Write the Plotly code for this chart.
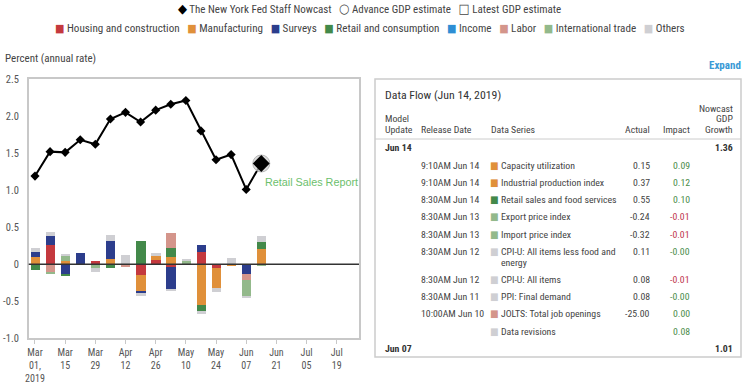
import plotly.graph_objects as go

# ---------------- data ----------------
weeks = ["2019-03-01", "2019-03-08", "2019-03-15", "2019-03-22", "2019-03-29",
         "2019-04-05", "2019-04-12", "2019-04-19", "2019-04-26", "2019-05-03",
         "2019-05-10", "2019-05-17", "2019-05-24", "2019-05-31", "2019-06-07",
         "2019-06-14"]
nowcast = [1.19, 1.52, 1.51, 1.68, 1.62, 1.96, 2.05, 1.92, 2.08, 2.16,
           2.21, 1.80, 1.41, 1.48, 1.01, 1.36]

housing       = [0, 0.26, 0, 0, 0.05, 0, 0, -0.15, 0.06, -0.04, 0, 0.16, -0.045, 0, 0, 0]
manufacturing = [0.095, 0, 0.045, 0, 0, 0.07, 0, -0.21, 0.055, 0.095, 0, -0.55, -0.28, -0.025, 0, 0.21]
surveys       = [0.07, 0.12, -0.125, 0.15, 0, 0.24, 0, -0.027, 0, -0.30, 0, 0.10, 0, 0, -0.135, 0]
retail        = [-0.08, 0, -0.027, 0, 0, -0.055, 0, 0.32, 0, 0.12, 0, -0.085, 0, 0, 0, 0.095]
income        = [0] * 16
labor         = [0, -0.11, 0, 0, 0, 0, -0.035, 0, 0, 0.21, 0, 0, 0, 0, -0.08, 0]
intl_trade    = [0, -0.02, 0.07, 0, -0.05, 0, 0, 0, 0, 0, 0.045, 0, 0, 0, -0.22, -0.02]
others        = [0.055, 0.05, 0.03, 0, -0.05, 0.08, 0.12, -0.045, 0.035, -0.015, 0.03, -0.03, -0.055, 0.08, -0.02, 0.08]

categories = ["Housing and construction", "Manufacturing", "Surveys", "Retail and consumption",
              "Income", "Labor", "International trade", "Others"]
cat_values = [housing, manufacturing, surveys, retail, income, labor, intl_trade, others]
cat_colors = ["#c4393e", "#e0903a", "#2c3d8c", "#43894a", "#2e8ed4", "#d4958b", "#93b98b", "#cfcfd3"]

tick_dates = ["2019-03-01", "2019-03-15", "2019-03-29", "2019-04-12", "2019-04-26", "2019-05-10",
              "2019-05-24", "2019-06-07", "2019-06-21", "2019-07-05", "2019-07-19"]
tick_labels = ["Mar<br>01,<br>2019", "Mar<br>15", "Mar<br>29", "Apr<br>12", "Apr<br>26", "May<br>10",
               "May<br>24", "Jun<br>07", "Jun<br>21", "Jul<br>05", "Jul<br>19"]
y_ticks = [2.5, 2.0, 1.5, 1.0, 0.5, 0, -0.5, -1.0]
y_tick_labels = ["2.5", "2.0", "1.5", "1.0", "0.5", "0", "-0.5", "-1.0"]

# data-flow table
tbl_header = [["Model", "Update"], ["Release Date"], ["Data Series"], ["Actual"], ["Impact"],
              ["Nowcast", "GDP", "Growth"]]
tbl_update = ["Jun 14", "", "", "", "", "", "", "", "", "", "", "Jun 07"]
tbl_release = ["", "9:10AM Jun 14", "9:10AM Jun 14", "8:30AM Jun 14", "8:30AM Jun 13", "8:30AM Jun 13",
               "8:30AM Jun 12", "8:30AM Jun 12", "8:30AM Jun 11", "10:00AM Jun 10", "", ""]
tbl_series = ["", "Capacity utilization", "Industrial production index", "Retail sales and food services",
              "Export price index", "Import price index", "CPI-U: All items less food and<br>energy",
              "CPI-U: All items", "PPI: Final demand", "JOLTS: Total job openings", "Data revisions", ""]
tbl_series_cat = [None, "Manufacturing", "Manufacturing", "Retail and consumption", "International trade",
                  "International trade", "Others", "Others", "Others", "Labor", "Others", None]
tbl_actual = ["", "0.15", "0.37", "0.55", "-0.24", "-0.32", "0.11", "0.08", "0.08", "-25.00", "", ""]
tbl_impact = ["", "0.09", "0.12", "0.10", "-0.01", "-0.01", "-0.00", "-0.01", "-0.00", "0.00", "0.08", ""]
tbl_nowcast = ["1.36", "", "", "", "", "", "", "", "", "", "", "1.01"]

# ---------------- figure ----------------
W, H = 749, 386
FONT = "Roboto Condensed, Liberation Sans Narrow, DejaVu Sans Condensed, Roboto, sans-serif"
TXT = "#444444"


def px(x):
    return x / W


def py(y):
    return 1 - y / H


fig = go.Figure()

bar_width_ms = 4.3 * 86400000
for name, vals, col in zip(categories, cat_values, cat_colors):
    fig.add_trace(go.Bar(x=weeks, y=vals, name=name, marker_color=col,
                         marker_line_width=0, width=bar_width_ms, showlegend=False))

fig.add_trace(go.Scatter(x=weeks, y=nowcast, mode="lines+markers",
                         line=dict(color="black", width=2),
                         marker=dict(symbol="diamond", size=7, color="black"),
                         showlegend=False))
# highlighted latest point
fig.add_trace(go.Scatter(x=weeks[-1:], y=nowcast[-1:], mode="markers",
                         marker=dict(symbol="circle", size=17, color="rgba(205,205,205,0.7)",
                                     line=dict(color="#b5b5b5", width=1)),
                         showlegend=False))
fig.add_trace(go.Scatter(x=weeks[-1:], y=nowcast[-1:], mode="markers",
                         marker=dict(symbol="diamond", size=13, color="black"),
                         showlegend=False))

fig.update_layout(
    width=W, height=H, autosize=False,
    margin=dict(l=0, r=0, t=0, b=0, pad=0, autoexpand=False),
    paper_bgcolor="white", plot_bgcolor="white",
    barmode="relative", bargap=0,
    font=dict(family=FONT, size=11, color=TXT),
    showlegend=False,
    xaxis=dict(domain=[px(28.7), px(359)], type="date", automargin=False,
               range=["2019-02-26 02:00", "2019-07-29 08:00"],
               tickvals=tick_dates, ticktext=tick_labels, tickangle=0,
               ticks="outside", ticklen=4, tickcolor="#c8c8c8",
               ticklabelstandoff=0,
               tickfont=dict(family=FONT, size=10, color="#555555"),
               showgrid=False, zeroline=False,
               showline=True, mirror=True, linecolor="#c8c8c8", linewidth=1.5),
    yaxis=dict(domain=[py(338.4), py(79)], range=[-1.0, 2.5], automargin=False,
               tickvals=y_ticks, ticktext=y_tick_labels,
               ticklabelstandoff=6,
               tickfont=dict(family=FONT, size=10.5, color="#555555"),
               ticks="", showgrid=False, zeroline=False,
               showline=True, mirror=True, linecolor="#c8c8c8", linewidth=1.5),
)

# zero line above bars
fig.add_shape(type="line", xref="x domain", yref="y", x0=0, x1=1, y0=0, y1=0,
              line=dict(color="#333333", width=1.5), layer="above")

# data flow box
fig.add_shape(type="rect", xref="paper", yref="paper", x0=px(375), x1=px(741), y0=py(357), y1=py(79),
              line=dict(color="#cccccc", width=1.5), fillcolor="rgba(0,0,0,0)", layer="above")
fig.add_shape(type="line", xref="paper", yref="paper", x0=px(375), x1=px(741), y0=py(139), y1=py(139),
              line=dict(color="#cccccc", width=1), layer="above")

ann = []


def text(t, x, y, anchor="left", size=10, color=TXT, family=FONT):
    ann.append(dict(text=t, xref="paper", yref="paper", x=px(x), y=py(y),
                    xanchor=anchor, yanchor="middle", showarrow=False,
                    font=dict(family=family, size=size, color=color)))


text("Percent (annual rate)", 3, 59, size=11)
ann.append(dict(text="Retail Sales Report", xref="x", yref="y", x="2019-06-15", y=1.11,
                xanchor="left", yanchor="middle", showarrow=False,
                font=dict(family="Liberation Sans, Arial, sans-serif", size=10.8, color="#6cc06c")))
text("Data Flow (Jun 14, 2019)", 383, 95, size=11.8, color="#333333")
text("<b>Expand</b>", 743, 66, anchor="right", size=11, color="#3a9ad6")

# legend rows (as text)
sp = "\u00a0\u00a0\u00a0"
big = "font-size:13px;"
row1 = ('<span style="color:black;%s">◆</span> The New York Fed Staff Nowcast' % big + sp +
        '<span style="color:#444;%s">○</span> Advance GDP estimate' % big + sp +
        '<span style="color:#444;%s">□</span> Latest GDP estimate' % big)
row2 = sp.join('<span style="color:%s">■</span> %s' % (c, n) for n, c in zip(categories, cat_colors))
text(row1, 369, 9, anchor="center", size=11)
text(row2, 370, 28, anchor="center", size=11.1)

# table layout
col_x = [383.3, 419.3, 489, 652.3, 691.7, 735]
col_anchor = ["left", "left", "left", "right", "right", "right"]
line_h = 10.5
TS = 9.8
# header (bottom-aligned lines)
for cx, ca, lines in zip(col_x, col_anchor, tbl_header):
    for i, ln in enumerate(lines):
        text(ln, cx, 129.3 - (len(lines) - 1 - i) * line_h, anchor=ca, size=TS)

y = 147.7
pitch = 17.3
for r in range(len(tbl_update)):
    if tbl_update[r]:
        text("<b>%s</b>" % tbl_update[r], col_x[0], y, size=TS, color="#333333")
    if tbl_release[r]:
        text(tbl_release[r], col_x[1], y, size=TS)
    n_lines = 1
    if tbl_series[r]:
        col = cat_colors[categories.index(tbl_series_cat[r])]
        text('<span style="color:%s">■</span>' % col, col_x[2] - 1, y, size=10)
        parts = tbl_series[r].split("<br>")
        n_lines = len(parts)
        for i, p in enumerate(parts):
            text(p, col_x[2] + 10, y + i * line_h, size=TS)
    if tbl_actual[r]:
        text(tbl_actual[r], col_x[3], y, anchor="right", size=TS)
    if tbl_impact[r]:
        c = "#c0354d" if float(tbl_impact[r]) < 0 else "#4a8c4a"
        text(tbl_impact[r], col_x[4], y, anchor="right", size=TS, color=c)
    if tbl_nowcast[r]:
        text("<b>%s</b>" % tbl_nowcast[r], col_x[5], y, anchor="right", size=TS, color="#333333")
    y += pitch + (n_lines - 1) * line_h

fig.update_layout(annotations=ann)

fig.write_html("out.html", config={"displayModeBar": False},
               post_script="document.body.style.margin='0px';document.body.style.padding='0px';")
